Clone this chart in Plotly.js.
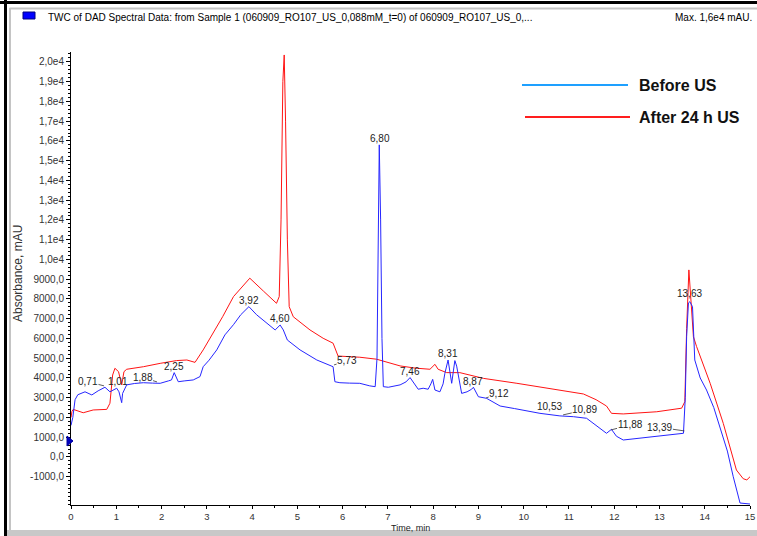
<!DOCTYPE html>
<html>
<head>
<meta charset="utf-8">
<script src="https://cdn.plot.ly/plotly-3.0.1.min.js"></script>
<style>
html,body{margin:0;padding:0;background:#fff;}
#chart{width:757px;height:536px;}
</style>
</head>
<body>
<div id="chart"></div>
<script>
// ---- Data (time in min, absorbance in mAU) ----
const beforeTime = [0.00,0.04,0.09,0.15,0.31,0.46,0.60,0.75,0.86,0.96,1.01,1.06,1.10,1.12,1.14,1.23,1.40,1.60,1.80,1.97,2.15,2.22,2.28,2.33,2.37,2.50,2.70,2.85,2.92,3.05,3.22,3.40,3.59,3.75,3.93,4.10,4.30,4.51,4.62,4.69,4.78,5.06,5.43,5.79,5.83,5.94,6.15,6.38,6.60,6.72,6.76,6.79,6.81,6.84,6.87,6.90,7.01,7.27,7.40,7.49,7.58,7.67,7.78,7.89,7.95,7.99,8.04,8.15,8.22,8.26,8.33,8.37,8.41,8.45,8.48,8.52,8.56,8.63,8.75,8.85,8.89,9.00,9.18,9.48,9.80,10.21,10.36,10.80,11.10,11.39,11.60,11.83,11.94,12.05,12.20,12.57,12.94,13.30,13.53,13.57,13.60,13.64,13.67,13.73,13.78,13.90,14.04,14.20,14.34,14.50,14.63,14.72,14.78,15.00];
const beforeValue = [1600,2000,2900,3150,3300,3140,3350,3530,3300,3420,3480,3300,2800,2750,3220,3650,3720,3760,3740,3730,3850,3900,4270,4000,3810,3850,3900,4070,4570,4900,5420,6180,6700,7200,7610,7200,6800,6430,6680,6430,5920,5420,4910,4570,3810,3760,3740,3730,3600,3560,5000,13000,15800,12000,6000,3560,3530,3650,3800,4020,3700,3430,3480,3430,3700,3930,3390,3300,3700,4240,4910,4400,3730,4400,4880,4600,4150,3220,3300,3430,3530,3050,2970,2580,2450,2290,2210,2080,2040,1960,1600,1200,1400,1050,860,950,1030,1110,1200,3000,6090,7800,7860,7610,4910,4000,3390,2500,1530,300,-1000,-1900,-2330,-2380];

const afterTime = [0.00,0.02,0.05,0.27,0.49,0.79,0.86,0.92,0.97,1.05,1.12,1.17,1.23,1.60,1.97,2.33,2.56,2.74,2.92,3.14,3.35,3.59,3.95,4.25,4.54,4.60,4.64,4.68,4.71,4.74,4.78,4.82,4.91,5.28,5.57,5.79,5.90,6.38,6.75,7.27,7.60,7.93,8.04,8.11,8.30,8.59,9.11,9.85,10.36,10.80,11.32,11.60,11.83,11.94,12.20,12.94,13.49,13.56,13.60,13.65,13.71,13.75,13.82,14.12,14.41,14.70,14.85,14.93,15.00];
const afterValue = [2000,2300,2410,2240,2380,2410,2720,4150,4490,4320,3650,4320,4440,4570,4740,4880,4910,4790,5420,6260,7100,8120,9050,8400,7780,8120,12000,19000,20350,17000,10990,7610,7100,6430,6010,5760,5110,5050,4950,4610,4500,4440,4690,4440,4270,4270,3980,3730,3530,3390,3190,2900,2580,2210,2180,2290,2470,2800,6500,9470,7440,6090,5590,3730,1700,-660,-1100,-1160,-1000];

// Peak labels: text, label centre (data units), leader target (data units, null = no leader)
const peakText   = ["0,71","1,01","1,88","2,25","3,92","4,60","5,73","6,80","7,46","8,31","8,87","9,12","10,53","10,89","11,88","13,39","13,63"];
const peakLabelT = [0.375,1.04,1.58,2.27,3.93,4.62,6.10,6.83,7.48,8.32,8.89,9.46,10.56,11.35,12.35,13.01,13.66];
const peakLabelV = [3810,3810,4030,4570,7900,7020,4860,16140,4320,5250,3810,3220,2550,2380,1620,1500,8290];
const leaderT    = [0.73,null,1.90,null,null,null,5.81,null,null,null,null,9.17,null,10.87,11.93,13.55,null];
const leaderV    = [3600,null,3800,null,null,null,4660,null,null,null,null,2990,null,2130,1370,1320,null];

const yTickVals = [];
for (let v = -1000; v <= 20000; v += 1000) yTickVals.push(v);
const yTickText = yTickVals.map(v => v >= 10000 ? (v/1e4).toFixed(1).replace('.',',') + 'e4' : v.toFixed(1).replace('.',','));
const xTickVals = [0,1,2,3,4,5,6,7,8,9,10,11,12,13,14,15];

const seriesNames = ["Before US","After 24 h US"];

// ---- Layout helpers (pixel -> paper) ----
const W = 757, H = 536, ML = 71, MR = 7, MT = 52, MB = 31;
const PW = W - ML - MR, PH = H - MT - MB;
const XR = [0, 15], YR = [-2430, 20500];
const px = x => (x - ML) / PW;
const py = y => (H - MB - y) / PH;
const FONT = 'Arial, Liberation Sans, sans-serif';

const traces = [
  {x: afterTime, y: afterValue, type: 'scatter', mode: 'lines', name: seriesNames[1],
   line: {color: '#ff1414', width: 1}},
  {x: beforeTime, y: beforeValue, type: 'scatter', mode: 'lines', name: seriesNames[0],
   line: {color: '#2626ff', width: 1}}
];

const annotations = peakText.map((t, i) => {
  const base = {xref: 'x', yref: 'y', text: t,
    font: {family: FONT, size: 10, color: '#222'}, xanchor: 'center', yanchor: 'middle'};
  if (leaderT[i] === null) {
    return Object.assign(base, {x: peakLabelT[i], y: peakLabelV[i], showarrow: false});
  }
  const ax = (peakLabelT[i] - leaderT[i]) * PW / (XR[1] - XR[0]);
  const ay = -(peakLabelV[i] - leaderV[i]) * PH / (YR[1] - YR[0]);
  return Object.assign(base, {x: leaderT[i], y: leaderV[i], showarrow: true, arrowhead: 0,
    arrowwidth: 0.8, arrowcolor: '#333', ax: ax, ay: ay, standoff: 0, borderpad: 0});
});

annotations.push(
  {xref: 'paper', yref: 'paper', x: px(46), y: py(17), xanchor: 'left', yanchor: 'middle', showarrow: false,
   text: 'TWC of DAD Spectral Data: from Sample 1 (060909_RO107_US_0,088mM_t=0) of 060909_RO107_US_0,...',
   font: {family: FONT, size: 10, color: '#000'}},
  {xref: 'paper', yref: 'paper', x: px(754), y: py(17), xanchor: 'right', yanchor: 'middle', showarrow: false,
   text: 'Max. 1,6e4 mAU.', font: {family: FONT, size: 10, color: '#000'}},
  {xref: 'paper', yref: 'paper', x: px(18), y: py(274), textangle: -90, xanchor: 'center', yanchor: 'middle', showarrow: false,
   text: 'Absorbance, mAU', font: {family: FONT, size: 12, color: '#333'}},
  {xref: 'paper', yref: 'paper', x: px(410), y: py(527.5), xanchor: 'center', yanchor: 'middle', showarrow: false,
   text: 'Time, min', font: {family: FONT, size: 9, color: '#222'}, borderpad: 0},
  {xref: 'paper', yref: 'paper', x: px(637), y: py(85), xanchor: 'left', yanchor: 'middle', showarrow: false,
   text: '<b>' + seriesNames[0] + '</b>', font: {family: FONT, size: 16, color: '#111'}},
  {xref: 'paper', yref: 'paper', x: px(637), y: py(118), xanchor: 'left', yanchor: 'middle', showarrow: false,
   text: '<b>' + seriesNames[1] + '</b>', font: {family: FONT, size: 16, color: '#111'}}
);

const shapes = [
  // frame
  {type: 'line', xref: 'paper', yref: 'paper', x0: px(0), x1: px(757), y0: py(2.5), y1: py(2.5), line: {color: '#000', width: 3}},
  {type: 'line', xref: 'paper', yref: 'paper', x0: px(5.5), x1: px(5.5), y0: py(0), y1: py(536), line: {color: '#000', width: 3}},
  {type: 'line', xref: 'paper', yref: 'paper', x0: px(9.5), x1: px(757), y0: py(8.5), y1: py(8.5), line: {color: '#c4c4c4', width: 2}},
  {type: 'line', xref: 'paper', yref: 'paper', x0: px(10), x1: px(10), y0: py(8), y1: py(536), line: {color: '#c4c4c4', width: 2}},
  {type: 'line', xref: 'paper', yref: 'paper', x0: px(7), x1: px(757), y0: py(533), y1: py(533), line: {color: '#c8c8c8', width: 6}},
  // header marker
  {type: 'rect', xref: 'paper', yref: 'paper', x0: px(23), x1: px(35), y0: py(19), y1: py(12), line: {color: '#000080', width: 1}, fillcolor: '#0000ff'},
  // left blue triangle marker
  {type: 'path', xref: 'paper', yref: 'paper',
   path: 'M ' + px(67) + ' ' + py(436) + ' L ' + px(73) + ' ' + py(441) + ' L ' + px(67) + ' ' + py(446) + ' Z',
   line: {color: '#0000a0', width: 1}, fillcolor: '#0000c0'},
  // legend lines
  {type: 'line', xref: 'paper', yref: 'paper', x0: px(522), x1: px(628), y0: py(85), y1: py(85), line: {color: '#1ea0ff', width: 2}},
  {type: 'line', xref: 'paper', yref: 'paper', x0: px(525), x1: px(630), y0: py(117), y1: py(117), line: {color: '#ff1e1e', width: 2}}
];

const layout = {
  width: W, height: H,
  margin: {l: ML, r: MR, t: MT, b: MB, pad: 0},
  paper_bgcolor: '#ffffff', plot_bgcolor: '#ffffff',
  showlegend: false,
  font: {family: FONT, size: 10, color: '#333'},
  xaxis: {
    range: XR, tickvals: xTickVals, ticktext: xTickVals.map(String),
    showgrid: false, zeroline: false, showline: true, linecolor: '#000', linewidth: 1,
    ticks: 'outside', ticklen: 3, tickcolor: '#000', tickfont: {size: 9.5, color: '#333'},
    minor: {ticks: 'outside', dtick: 0.5, ticklen: 2, tickcolor: '#000'}
  },
  yaxis: {
    range: YR, tickvals: yTickVals, ticktext: yTickText,
    showgrid: false, zeroline: false, showline: true, linecolor: '#000', linewidth: 1,
    ticks: 'outside', ticklen: 4, tickcolor: '#000', tickfont: {size: 10, color: '#333'},
    minor: {ticks: 'outside', dtick: 200, ticklen: 2, tickcolor: '#000'}
  },
  annotations: annotations,
  shapes: shapes
};

Plotly.newPlot('chart', traces, layout, {staticPlot: true, displayModeBar: false});
</script>
</body>
</html>
